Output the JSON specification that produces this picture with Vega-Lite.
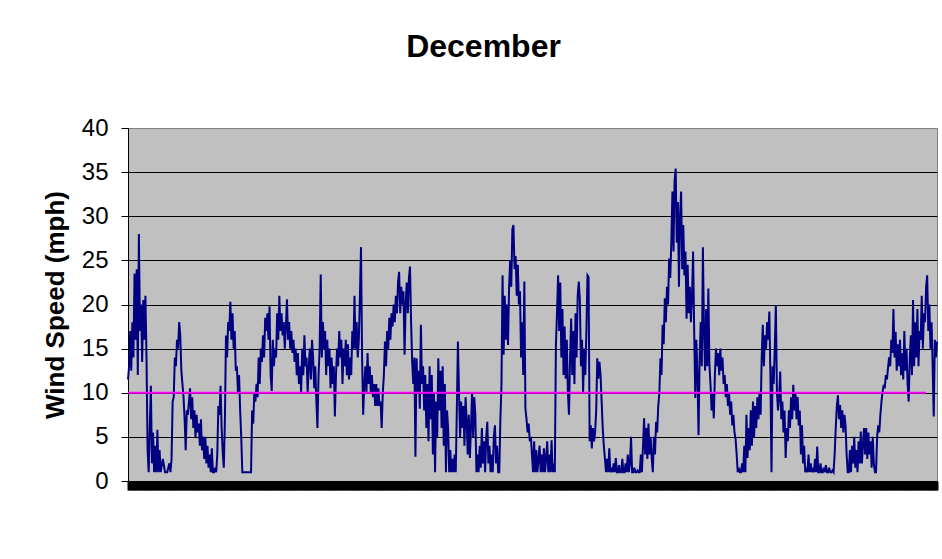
{
"$schema":"https://vega.github.io/schema/vega-lite/v6.json",
"width":809,"height":353,
"autosize":"none",
"padding":{"left":128,"top":128,"right":5,"bottom":78},
"background":"white",
"config":{"view":{"fill":"#C0C0C0","stroke":"#808080","strokeWidth":1},"font":"Liberation Sans"},
"title":{"text":"December","fontSize":32,"fontWeight":"bold","font":"Liberation Sans","color":"black","anchor":"middle","dx":-49,"offset":52},
"datasets":{
"ref":[{"h":0,"v":10},{"h":733,"v":10}],
"wind":[
{"h":0,"v":11.5},{"h":1,"v":13},{"h":2,"v":17},{"h":3,"v":12.5},{"h":4,"v":18},{"h":5,"v":14},{"h":6,"v":23.5},{"h":7,"v":16},{"h":8,"v":24},{"h":9,"v":12},
{"h":10,"v":28},{"h":11,"v":17},{"h":12,"v":20},{"h":13,"v":13.5},{"h":14,"v":20.5},{"h":15,"v":16},{"h":16,"v":21},{"h":17,"v":14},{"h":18,"v":3.5},{"h":19,"v":1},
{"h":20,"v":6},{"h":21,"v":10.8},{"h":22,"v":2},{"h":23,"v":5.5},{"h":24,"v":1},{"h":25,"v":4},{"h":26,"v":1},{"h":27,"v":5.8},{"h":28,"v":1},{"h":29,"v":3.5},
{"h":30,"v":1},{"h":32,"v":2.5},{"h":34,"v":1},{"h":36,"v":1},{"h":38,"v":2},{"h":39,"v":1},
{"h":40,"v":2.5},{"h":41,"v":9},{"h":42,"v":9.5},{"h":43,"v":14},{"h":44,"v":13},{"h":45,"v":16},{"h":46,"v":15},{"h":47,"v":18},{"h":48,"v":16.5},{"h":49,"v":12.5},
{"h":50,"v":11},{"h":51,"v":9.5},{"h":52,"v":7},{"h":53,"v":3.5},{"h":54,"v":8},{"h":55,"v":7.5},{"h":56,"v":9},{"h":57,"v":10.5},{"h":58,"v":7},{"h":59,"v":9.5},
{"h":60,"v":6},{"h":61,"v":8},{"h":62,"v":5},{"h":63,"v":7.5},{"h":64,"v":5.5},{"h":65,"v":6.5},{"h":66,"v":4},{"h":67,"v":7},{"h":68,"v":3.5},{"h":69,"v":5},
{"h":70,"v":2.5},{"h":71,"v":5},{"h":72,"v":2},{"h":73,"v":4},{"h":74,"v":1.5},{"h":75,"v":3},{"h":76,"v":1},{"h":77,"v":3.7},{"h":78,"v":1},{"h":79,"v":1},
{"h":80,"v":1.5},{"h":81,"v":1},{"h":82,"v":3},{"h":83,"v":8.5},{"h":84,"v":7.5},{"h":85,"v":10.8},{"h":86,"v":6},{"h":87,"v":3.2},{"h":88,"v":1.5},{"h":89,"v":7},
{"h":90,"v":16.5},{"h":91,"v":14},{"h":92,"v":18},{"h":93,"v":17},{"h":94,"v":20.3},{"h":95,"v":16},{"h":96,"v":19},{"h":97,"v":15},{"h":98,"v":17},{"h":99,"v":12.5},
{"h":100,"v":13},{"h":101,"v":10},{"h":102,"v":12},{"h":103,"v":8},{"h":104,"v":5},{"h":105,"v":1},{"h":106,"v":1},{"h":108,"v":1},{"h":110,"v":1},{"h":111,"v":1},
{"h":112,"v":1},{"h":113,"v":1},{"h":114,"v":8},{"h":115,"v":6.5},{"h":116,"v":10},{"h":117,"v":9},{"h":118,"v":11},{"h":119,"v":9.5},
{"h":120,"v":14},{"h":121,"v":11},{"h":122,"v":15},{"h":123,"v":13.5},{"h":124,"v":16.5},{"h":125,"v":14},{"h":126,"v":18.5},{"h":127,"v":17},{"h":128,"v":19},{"h":129,"v":16},
{"h":130,"v":19.8},{"h":131,"v":12},{"h":132,"v":10.2},{"h":133,"v":16},{"h":134,"v":13},{"h":135,"v":15},{"h":136,"v":14},{"h":137,"v":19},{"h":138,"v":16},{"h":139,"v":21},
{"h":140,"v":17},{"h":141,"v":19},{"h":142,"v":16.5},{"h":143,"v":18},{"h":144,"v":15},{"h":145,"v":17.5},{"h":146,"v":20.6},{"h":147,"v":16},{"h":148,"v":18},{"h":149,"v":15},
{"h":150,"v":17},{"h":151,"v":14.5},{"h":152,"v":16},{"h":153,"v":13.5},{"h":154,"v":15},{"h":155,"v":12},{"h":156,"v":14.5},{"h":157,"v":11},{"h":158,"v":13},{"h":159,"v":10},
{"h":160,"v":15},{"h":161,"v":12},{"h":162,"v":16.5},{"h":163,"v":13},{"h":164,"v":14},{"h":165,"v":10},{"h":166,"v":13},{"h":167,"v":15},{"h":168,"v":11.5},{"h":169,"v":16},
{"h":170,"v":14},{"h":171,"v":10.5},{"h":172,"v":13},{"h":173,"v":9},{"h":174,"v":6},{"h":175,"v":12},{"h":176,"v":15},{"h":177,"v":23.4},{"h":178,"v":14},{"h":179,"v":18},
{"h":180,"v":15},{"h":181,"v":17},{"h":182,"v":12},{"h":183,"v":16},{"h":184,"v":13},{"h":185,"v":15},{"h":186,"v":10.5},{"h":187,"v":14},{"h":188,"v":11},{"h":189,"v":13},
{"h":190,"v":7.3},{"h":191,"v":12},{"h":192,"v":15},{"h":193,"v":13},{"h":194,"v":17},{"h":195,"v":14},{"h":196,"v":16},{"h":197,"v":11},{"h":198,"v":15},{"h":199,"v":13},
{"h":200,"v":16},{"h":201,"v":12},{"h":202,"v":15.5},{"h":203,"v":11.5},{"h":204,"v":14},{"h":205,"v":12},{"h":206,"v":17},{"h":207,"v":15},{"h":208,"v":21},{"h":209,"v":15},
{"h":210,"v":18},{"h":211,"v":14},{"h":212,"v":16},{"h":213,"v":21},{"h":214,"v":26.5},{"h":215,"v":14},{"h":216,"v":7.5},{"h":217,"v":11},{"h":218,"v":13},{"h":219,"v":10},
{"h":220,"v":14.5},{"h":221,"v":11},{"h":222,"v":13},{"h":223,"v":10},{"h":224,"v":12},{"h":225,"v":9.5},{"h":226,"v":11},{"h":227,"v":8.5},{"h":228,"v":11},{"h":229,"v":8.5},
{"h":230,"v":10.5},{"h":231,"v":8.5},{"h":232,"v":9},{"h":233,"v":6},{"h":234,"v":10},{"h":235,"v":12},{"h":236,"v":15.8},{"h":237,"v":13},{"h":238,"v":17},{"h":239,"v":15},
{"h":240,"v":18.5},{"h":241,"v":16},{"h":242,"v":19},{"h":243,"v":17.5},{"h":244,"v":20},{"h":245,"v":18},{"h":246,"v":21},{"h":247,"v":19},{"h":248,"v":22.5},{"h":249,"v":23.7},
{"h":250,"v":19},{"h":251,"v":22},{"h":252,"v":20},{"h":253,"v":21.5},{"h":254,"v":14.3},{"h":255,"v":20},{"h":256,"v":22.5},{"h":257,"v":19},{"h":258,"v":23},{"h":259,"v":24.3},
{"h":260,"v":18},{"h":261,"v":13.5},{"h":262,"v":11},{"h":263,"v":14},{"h":264,"v":2.75},{"h":265,"v":13.9},{"h":266,"v":10},{"h":267,"v":12.5},{"h":268,"v":8.2},{"h":269,"v":17.7},
{"h":270,"v":11},{"h":271,"v":13},{"h":272,"v":8},{"h":273,"v":12},{"h":274,"v":6},{"h":275,"v":11},{"h":276,"v":4.5},{"h":277,"v":13},{"h":278,"v":7},{"h":279,"v":12},
{"h":280,"v":3},{"h":281,"v":10},{"h":282,"v":1},{"h":283,"v":9},{"h":284,"v":5},{"h":285,"v":13.9},{"h":286,"v":8},{"h":287,"v":12.5},{"h":288,"v":6},{"h":289,"v":13},
{"h":290,"v":4},{"h":291,"v":11},{"h":292,"v":1},{"h":293,"v":8},{"h":294,"v":6},{"h":295,"v":1},{"h":296,"v":3.5},{"h":297,"v":1},{"h":298,"v":2.5},{"h":299,"v":1},
{"h":300,"v":3},{"h":301,"v":1},{"h":302,"v":8},{"h":303,"v":15.8},{"h":304,"v":10},{"h":305,"v":5},{"h":306,"v":9},{"h":307,"v":6},{"h":308,"v":8.5},{"h":309,"v":4},
{"h":310,"v":9.5},{"h":311,"v":7},{"h":312,"v":3},{"h":313,"v":7.5},{"h":314,"v":2.6},{"h":315,"v":6},{"h":316,"v":10},{"h":317,"v":5},{"h":318,"v":9.5},{"h":319,"v":7.5},
{"h":320,"v":1},{"h":321,"v":3},{"h":322,"v":1},{"h":323,"v":4},{"h":324,"v":1.5},{"h":325,"v":6},{"h":326,"v":2},{"h":327,"v":4.5},{"h":328,"v":1},{"h":329,"v":5},
{"h":330,"v":6.7},{"h":331,"v":2},{"h":332,"v":4},{"h":333,"v":1},{"h":334,"v":3},{"h":335,"v":1},{"h":336,"v":5},{"h":337,"v":6.3},{"h":338,"v":2},{"h":339,"v":4},
{"h":340,"v":1},{"h":341,"v":1},{"h":342,"v":7},{"h":343,"v":10.8},{"h":344,"v":23.3},{"h":345,"v":14.3},{"h":346,"v":21},{"h":347,"v":16},{"h":348,"v":20},{"h":349,"v":15.4},
{"h":350,"v":22},{"h":351,"v":25},{"h":352,"v":22},{"h":353,"v":28.5},{"h":354,"v":29},{"h":355,"v":24},{"h":356,"v":25.5},{"h":357,"v":21},{"h":358,"v":24.5},{"h":359,"v":20},
{"h":360,"v":21.5},{"h":361,"v":14},{"h":362,"v":18},{"h":363,"v":12},{"h":364,"v":22.6},{"h":365,"v":8.2},{"h":366,"v":7},{"h":367,"v":5.5},{"h":368,"v":6.5},{"h":369,"v":4.5},
{"h":370,"v":5},{"h":371,"v":3},{"h":372,"v":1},{"h":373,"v":4.5},{"h":374,"v":1},{"h":375,"v":3.5},{"h":376,"v":1},{"h":377,"v":2.5},{"h":378,"v":4},{"h":379,"v":1},
{"h":380,"v":3},{"h":381,"v":1},{"h":382,"v":3.7},{"h":383,"v":1},{"h":384,"v":2.5},{"h":385,"v":4.5},{"h":386,"v":1},{"h":387,"v":3},{"h":388,"v":1},{"h":389,"v":4.6},
{"h":390,"v":1},{"h":391,"v":2},{"h":392,"v":1},{"h":393,"v":15.4},{"h":394,"v":19},{"h":395,"v":23.3},{"h":396,"v":17},{"h":397,"v":22.5},{"h":398,"v":14},{"h":399,"v":19.5},
{"h":400,"v":12},{"h":401,"v":17.5},{"h":402,"v":11.6},{"h":403,"v":16},{"h":404,"v":10},{"h":405,"v":7.5},{"h":406,"v":14},{"h":407,"v":18.4},{"h":408,"v":12},{"h":409,"v":17},
{"h":410,"v":11},{"h":411,"v":19},{"h":412,"v":14},{"h":413,"v":21},{"h":414,"v":22.6},{"h":415,"v":20.5},{"h":416,"v":13},{"h":417,"v":16},{"h":418,"v":10.1},{"h":419,"v":15},
{"h":420,"v":12},{"h":421,"v":17},{"h":422,"v":23.3},{"h":423,"v":23.1},{"h":424,"v":4.5},{"h":425,"v":6.3},{"h":426,"v":3.7},{"h":427,"v":6},{"h":428,"v":4.5},{"h":429,"v":5.5},
{"h":430,"v":8},{"h":431,"v":13.9},{"h":432,"v":11.6},{"h":433,"v":13.5},{"h":434,"v":12},{"h":435,"v":9},{"h":436,"v":6},{"h":437,"v":4},{"h":438,"v":2.6},{"h":439,"v":1},
{"h":440,"v":2.5},{"h":441,"v":1},{"h":442,"v":3.7},{"h":443,"v":1},{"h":444,"v":1.5},{"h":445,"v":1},{"h":446,"v":2},{"h":447,"v":1},{"h":448,"v":2.6},{"h":449,"v":1},
{"h":450,"v":1},{"h":451,"v":1.8},{"h":452,"v":1},{"h":453,"v":1},{"h":454,"v":2.5},{"h":455,"v":1},{"h":456,"v":1},{"h":457,"v":2},{"h":458,"v":1},{"h":459,"v":3},
{"h":460,"v":1},{"h":461,"v":2},{"h":462,"v":5},{"h":463,"v":1},{"h":464,"v":1},{"h":465,"v":1.5},{"h":466,"v":1},{"h":467,"v":1},{"h":468,"v":1.2},{"h":469,"v":1},
{"h":470,"v":1},{"h":471,"v":3},{"h":472,"v":1},{"h":473,"v":4},{"h":474,"v":7.1},{"h":475,"v":3},{"h":476,"v":6},{"h":477,"v":2.5},{"h":478,"v":6.5},{"h":479,"v":3},
{"h":480,"v":5},{"h":481,"v":2.6},{"h":482,"v":1},{"h":483,"v":5},{"h":484,"v":3},{"h":485,"v":6.7},{"h":486,"v":5.5},{"h":487,"v":8.5},{"h":488,"v":10},{"h":489,"v":13.9},
{"h":490,"v":12},{"h":491,"v":17.7},{"h":492,"v":15.5},{"h":493,"v":20.7},{"h":494,"v":18},{"h":495,"v":22},{"h":496,"v":20},{"h":497,"v":25.2},{"h":498,"v":23},{"h":499,"v":27},
{"h":500,"v":32.8},{"h":501,"v":26},{"h":502,"v":34},{"h":503,"v":35.4},{"h":504,"v":27},{"h":505,"v":31.6},{"h":506,"v":22},{"h":507,"v":30},{"h":508,"v":32.8},{"h":509,"v":24},
{"h":510,"v":29},{"h":511,"v":23.3},{"h":512,"v":26},{"h":513,"v":18.4},{"h":514,"v":24.5},{"h":515,"v":19},{"h":516,"v":22},{"h":517,"v":18},{"h":518,"v":21},{"h":519,"v":26},
{"h":520,"v":17},{"h":521,"v":9.4},{"h":522,"v":16},{"h":523,"v":12},{"h":524,"v":5.2},{"h":525,"v":14},{"h":526,"v":18},{"h":527,"v":13},{"h":528,"v":26.5},{"h":529,"v":17},
{"h":530,"v":12.5},{"h":531,"v":19.5},{"h":532,"v":13},{"h":533,"v":21.8},{"h":534,"v":13.1},{"h":535,"v":10.9},{"h":536,"v":8},{"h":537,"v":10},{"h":538,"v":7.1},{"h":539,"v":12},
{"h":540,"v":15},{"h":541,"v":13},{"h":542,"v":14.5},{"h":543,"v":12},{"h":544,"v":15},{"h":545,"v":12.5},{"h":546,"v":14},{"h":547,"v":11},{"h":548,"v":12},{"h":549,"v":9.5},
{"h":550,"v":11},{"h":551,"v":8.5},{"h":552,"v":10},{"h":553,"v":7.5},{"h":554,"v":9},{"h":555,"v":6.3},{"h":556,"v":7.5},{"h":557,"v":5.5},{"h":558,"v":4.8},{"h":559,"v":3},
{"h":560,"v":1},{"h":561,"v":1.5},{"h":562,"v":1},{"h":563,"v":1},{"h":564,"v":2},{"h":565,"v":1},{"h":566,"v":4},{"h":567,"v":1},{"h":568,"v":7.5},{"h":569,"v":2.6},
{"h":570,"v":6},{"h":571,"v":3.5},{"h":572,"v":8},{"h":573,"v":4},{"h":574,"v":9},{"h":575,"v":5},{"h":576,"v":8.5},{"h":577,"v":6},{"h":578,"v":9.5},{"h":579,"v":7},
{"h":580,"v":10.1},{"h":581,"v":7.5},{"h":582,"v":14},{"h":583,"v":17.7},{"h":584,"v":13},{"h":585,"v":16.5},{"h":586,"v":15},{"h":587,"v":18},{"h":588,"v":16},{"h":589,"v":19.2},
{"h":590,"v":12},{"h":591,"v":1},{"h":592,"v":13},{"h":593,"v":11},{"h":594,"v":15},{"h":595,"v":19.9},{"h":596,"v":10},{"h":597,"v":8},{"h":598,"v":9.5},{"h":599,"v":12.4},
{"h":600,"v":7},{"h":601,"v":9},{"h":602,"v":5.5},{"h":603,"v":8},{"h":604,"v":2.6},{"h":605,"v":6},{"h":606,"v":4.5},{"h":607,"v":8},{"h":608,"v":6},{"h":609,"v":9.5},
{"h":610,"v":7},{"h":611,"v":10.9},{"h":612,"v":8},{"h":613,"v":10},{"h":614,"v":7},{"h":615,"v":9.5},{"h":616,"v":6.3},{"h":617,"v":8},{"h":618,"v":3},{"h":619,"v":6.3},
{"h":620,"v":2},{"h":621,"v":4},{"h":622,"v":1},{"h":623,"v":1.5},{"h":624,"v":1},{"h":625,"v":3},{"h":626,"v":1},{"h":627,"v":2},{"h":628,"v":1},{"h":629,"v":1.5},
{"h":630,"v":1},{"h":631,"v":2.5},{"h":632,"v":1},{"h":633,"v":3.9},{"h":634,"v":1},{"h":635,"v":1},{"h":636,"v":2},{"h":637,"v":1},{"h":638,"v":1},{"h":639,"v":1.5},
{"h":640,"v":1},{"h":641,"v":1.8},{"h":642,"v":1},{"h":643,"v":1},{"h":644,"v":1.5},{"h":645,"v":1},{"h":646,"v":1},{"h":647,"v":1.2},{"h":648,"v":1},{"h":649,"v":3},
{"h":650,"v":6},{"h":651,"v":8.5},{"h":652,"v":9.7},{"h":653,"v":7},{"h":654,"v":8.6},{"h":655,"v":6},{"h":656,"v":8},{"h":657,"v":5.5},{"h":658,"v":7.5},{"h":659,"v":6.3},
{"h":660,"v":3},{"h":661,"v":1},{"h":662,"v":1},{"h":663,"v":3.5},{"h":664,"v":1},{"h":665,"v":4},{"h":666,"v":2},{"h":667,"v":5},{"h":668,"v":1.5},{"h":669,"v":3.5},
{"h":670,"v":1},{"h":671,"v":4.5},{"h":672,"v":2},{"h":673,"v":5.6},{"h":674,"v":2},{"h":675,"v":4},{"h":676,"v":6},{"h":677,"v":3},{"h":678,"v":6},{"h":679,"v":2.5},
{"h":680,"v":5.5},{"h":681,"v":3},{"h":682,"v":4.5},{"h":683,"v":1.5},{"h":684,"v":5},{"h":685,"v":2},{"h":686,"v":1},{"h":687,"v":1},{"h":688,"v":5},{"h":689,"v":6.3},
{"h":690,"v":5.5},{"h":691,"v":7.5},{"h":692,"v":9},{"h":693,"v":10.1},{"h":694,"v":10.9},{"h":695,"v":10.5},{"h":696,"v":12},{"h":697,"v":11.5},{"h":698,"v":12.8},{"h":699,"v":14},
{"h":700,"v":13},{"h":701,"v":16},{"h":702,"v":14.5},{"h":703,"v":19.5},{"h":704,"v":14},{"h":705,"v":16.9},{"h":706,"v":12.5},{"h":707,"v":15.5},{"h":708,"v":13},{"h":709,"v":16},
{"h":710,"v":12},{"h":711,"v":14.5},{"h":712,"v":11.5},{"h":713,"v":17},{"h":714,"v":12.5},{"h":715,"v":15},{"h":716,"v":11},{"h":717,"v":9},{"h":718,"v":14},{"h":719,"v":16.5},
{"h":720,"v":12},{"h":721,"v":20.5},{"h":722,"v":13},{"h":723,"v":18},{"h":724,"v":14},{"h":725,"v":19.5},{"h":726,"v":13},{"h":727,"v":17},{"h":728,"v":16},{"h":729,"v":21},
{"h":730,"v":15},{"h":731,"v":19},{"h":732,"v":18},{"h":733,"v":22},{"h":734,"v":23.3},{"h":735,"v":17},{"h":736,"v":20},{"h":737,"v":15},{"h":738,"v":18},{"h":739,"v":13},
{"h":740,"v":7.3},{"h":741,"v":16},{"h":742,"v":14},{"h":743,"v":15.8}
]},
"layer":[
{"data":{"name":"wind"},
 "mark":{"type":"line","color":"#000080","strokeWidth":2},
 "encoding":{
  "x":{"field":"h","type":"quantitative","scale":{"domain":[0,743],"nice":false,"zero":false},
       "axis":{"title":null,"labels":false,"grid":false,"tickCount":743,"tickRound":false,"tickSize":9,"tickColor":"black","tickWidth":2,"domainColor":"black","domainWidth":1}},
  "y":{"field":"v","type":"quantitative","scale":{"domain":[0,40],"nice":false},
       "axis":{"title":"Wind Speed (mph)","values":[0,5,10,15,20,25,30,35,40],"tickSize":7,"tickColor":"black","tickWidth":1,"domainColor":"black","domainWidth":1,
               "labelFontSize":24,"labelColor":"black","labelFont":"Liberation Sans","labelPadding":13,
               "grid":true,"gridColor":{"condition":{"test":"datum.value === 40","value":"#808080"},"value":"black"},"gridWidth":1,
               "titleFontSize":26,"titleFontWeight":"bold","titleFont":"Liberation Sans","titleColor":"black","titlePadding":13}}}},
{"data":{"name":"ref"},
 "mark":{"type":"line","color":"#FF00FF","strokeWidth":2},
 "encoding":{
  "x":{"field":"h","type":"quantitative"},
  "y":{"field":"v","type":"quantitative"}}}
]
}
